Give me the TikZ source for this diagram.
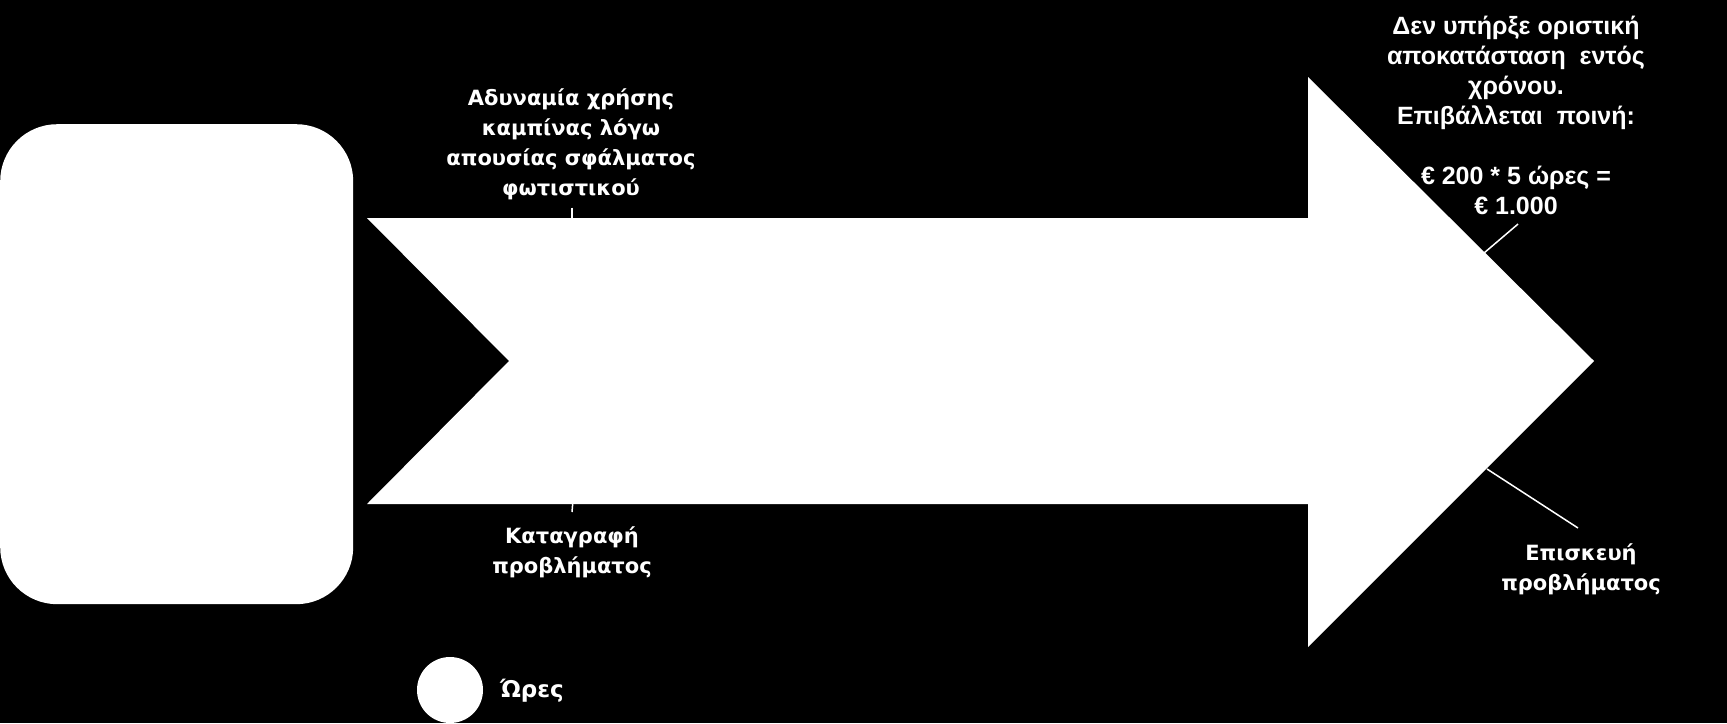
\documentclass[tikz,border=0pt]{standalone}
\usepackage{fontspec}
\setmainfont{DejaVu Sans}
\newfontfamily\arialfont{Liberation Sans}
\usetikzlibrary{positioning}

\begin{document}
\begin{tikzpicture}
%Timeline of the penalty
	[
	 	 %Styles
       x=1pt, y=-1pt,
       white_shape/.style={fill=white,draw=none},
       label_text/.style={text=white,align=center,inner sep=0pt,
                          font=\bfseries\fontsize{21}{30}\selectfont},
       label_arial/.style={label_text,font=\arialfont\bfseries\fontsize{25}{30}\selectfont},
       leader/.style={draw=white,line width=1.5pt}
    ]

    %Frame
    \useasboundingbox (0,0) rectangle (1727,723);
    \fill[black] (0,0) rectangle (1727,723);

    %Shapes
    \node (panel) [white_shape,rounded corners=57pt,minimum width=353pt,minimum height=480pt,
                   anchor=north west] at (0,124) {};
    \fill[white] (367,218) -- (1308,218) -- (1308,77) -- (1594,361)
                 -- (1308,647) -- (1308,504) -- (367,504) -- (509,361) -- cycle;
    \node (hours_dot) [white_shape,circle,inner sep=0pt,minimum size=66pt] at (450,690) {};

    %Labels
    \node (cabin_text) [label_text,anchor=north] at (571,89)
       {Αδυναμία χρήσης\\καμπίνας λόγω\\απουσίας σφάλματος\\φωτιστικού};
    \node (log_text) [label_text,anchor=north] at (572,526)
       {Καταγραφή\\προβλήματος};
    \node (penalty_text) [label_arial,anchor=north] at (1516,16)
       {Δεν υπήρξε οριστική\\αποκατάσταση\ \ εντός\\χρόνου.\\Επιβάλλεται\ \ ποινή:\\[30pt]
        € 200 * 5 ώρες =\\€ 1.000};
    \node (repair_text) [label_text,anchor=north] at (1581,543)
       {Επισκευή\\προβλήματος};
    \node (hours_text) [label_text,font=\bfseries\fontsize{23}{30}\selectfont,
                        right=17pt of hours_dot,yshift=-1pt] {Ώρες};

    %Leaders
    \coordinate (cabin_end) at (572,226);
    \coordinate (log_start) at (573,500);
    \coordinate (penalty_end) at (1484,253);
    \coordinate (repair_start) at (1487,469);
    \draw[leader] (cabin_text.south) ++(1,7) -- (cabin_end);
    \draw[leader] (log_start) -- ([yshift=14pt]log_text.north);
    \draw[leader] (penalty_text.south) ++(2,9) -- (penalty_end);
    \draw[leader] (repair_start) -- ([shift={(-3,-15)}]repair_text.north);
\end{tikzpicture}
\end{document}
